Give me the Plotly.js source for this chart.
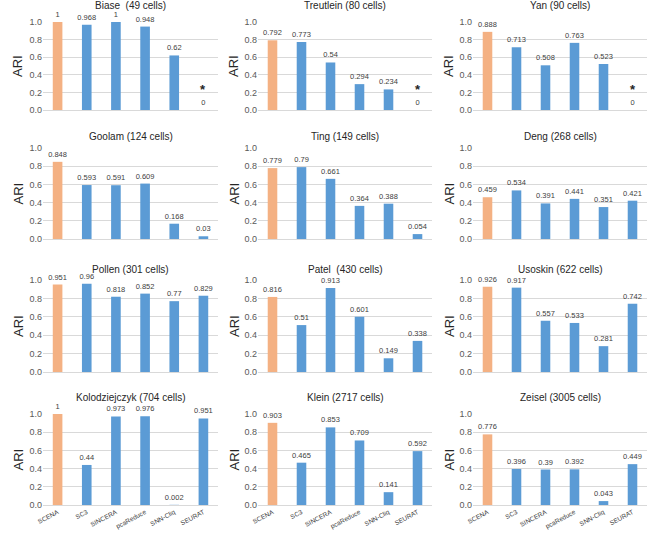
<!DOCTYPE html>
<html>
<head>
<meta charset="utf-8">
<script src="https://cdn.plot.ly/plotly-3.0.1.min.js"></script>
<style>
  html, body { margin: 0; padding: 0; background: #fff; }
  #chart { width: 666px; height: 533px; }
</style>
</head>
<body>
<div id="chart"></div>
<script>
// methods on the x axis of every panel
const methods = ['SCENA', 'SC3', 'SINCERA', 'pcaReduce', 'SNN-Cliq', 'SEURAT'];

// panel titles, row by row
const titles = [
    'Biase  (49 cells)', 'Treutlein (80 cells)', 'Yan (90 cells)',
    'Goolam (124 cells)', 'Ting (149 cells)', 'Deng (268 cells)',
    'Pollen (301 cells)', 'Patel  (430 cells)', 'Usoskin (622 cells)',
    'Kolodziejczyk (704 cells)', 'Klein (2717 cells)', 'Zeisel (3005 cells)'
];

// ARI values per dataset
const biase = [1, 0.968, 1, 0.948, 0.62, 0];
const treutlein = [0.792, 0.773, 0.54, 0.294, 0.234, 0];
const yan = [0.888, 0.713, 0.508, 0.763, 0.523, 0];
const goolam = [0.848, 0.593, 0.591, 0.609, 0.168, 0.03];
const ting = [0.779, 0.79, 0.661, 0.364, 0.388, 0.054];
const deng = [0.459, 0.534, 0.391, 0.441, 0.351, 0.421];
const pollen = [0.951, 0.96, 0.818, 0.852, 0.77, 0.829];
const patel = [0.816, 0.51, 0.913, 0.601, 0.149, 0.338];
const usoskin = [0.926, 0.917, 0.557, 0.533, 0.281, 0.742];
const kolodziejczyk = [1, 0.44, 0.973, 0.976, 0.002, 0.951];
const klein = [0.903, 0.465, 0.853, 0.709, 0.141, 0.592];
const zeisel = [0.776, 0.396, 0.39, 0.392, 0.043, 0.449];

// datasets where SEURAT failed (marked with *)
const failed = ['Biase  (49 cells)', 'Treutlein (80 cells)', 'Yan (90 cells)'];

const series = [biase, treutlein, yan, goolam, ting, deng, pollen, patel, usoskin, kolodziejczyk, klein, zeisel];

const W = 666, H = 533;
// pixel boxes of the plot areas
const colX = [[43, 218], [258, 432], [473, 647]];
const rowY = [[22, 110], [148, 239], [280, 372], [414, 505]];
const titleY = [5, 137, 269, 397];
const ariX = [18, 234, 449];

const ORANGE = '#F4B183';
const BLUE = '#5B9BD5';

const data = [];
const layout = {
    width: W, height: H,
    margin: { l: 0, r: 0, t: 0, b: 0 },
    paper_bgcolor: '#fff',
    plot_bgcolor: '#fff',
    showlegend: false,
    font: { family: 'Liberation Sans, Arial, sans-serif', color: '#404040' },
    annotations: []
};

series.forEach((vals, i) => {
    const r = Math.floor(i / 3), c = i % 3;
    const n = i === 0 ? '' : String(i + 1);
    data.push({
        type: 'bar',
        x: methods,
        y: vals,
        xaxis: 'x' + n,
        yaxis: 'y' + n,
        width: 0.33,
        marker: { color: methods.map((m, k) => k === 0 ? ORANGE : BLUE) },
        text: vals.map(v => String(v)),
        textposition: 'outside',
        constraintext: 'none',
        cliponaxis: false,
        textfont: { size: 7.5, color: '#404040' },
        hoverinfo: 'x+y'
    });
    layout['xaxis' + n] = {
        domain: [colX[c][0] / W, colX[c][1] / W],
        anchor: 'y' + n,
        type: 'category',
        showgrid: false,
        showline: true,
        linecolor: '#d9d9d9',
        ticks: '',
        showticklabels: r === 3,
        tickangle: -28,
        tickfont: { size: 6.5, color: '#404040' },
        fixedrange: true
    };
    layout['yaxis' + n] = {
        domain: [1 - rowY[r][1] / H, 1 - rowY[r][0] / H],
        anchor: 'x' + n,
        range: [0, 1],
        dtick: 0.2,
        tickformat: '.1f',
        showgrid: true,
        gridcolor: '#d9d9d9',
        zeroline: false,
        showline: false,
        ticks: '',
        tickfont: { size: 9, color: '#595959' },
        fixedrange: true
    };
    layout.annotations.push({
        text: titles[i],
        xref: 'paper', yref: 'paper',
        x: (colX[c][0] + colX[c][1]) / 2 / W,
        y: 1 - titleY[r] / H,
        xanchor: 'center', yanchor: 'middle',
        showarrow: false,
        font: { size: 10, color: '#262626' }
    });
    layout.annotations.push({
        text: 'ARI',
        xref: 'paper', yref: 'paper',
        x: ariX[c] / W,
        y: 1 - (rowY[r][0] + rowY[r][1]) / 2 / H,
        xanchor: 'center', yanchor: 'middle',
        textangle: -90,
        showarrow: false,
        font: { size: 13, color: '#262626' }
    });
    if (failed.includes(titles[i])) {
        layout.annotations.push({
            text: '<b>*</b>',
            xref: 'x' + n, yref: 'y' + n,
            x: 'SEURAT', y: 0.13,
            yanchor: 'bottom',
            showarrow: false,
            font: { size: 13, color: '#262626' }
        });
    }
});

Plotly.newPlot('chart', data, layout, { displayModeBar: false, staticPlot: true });
</script>
</body>
</html>
